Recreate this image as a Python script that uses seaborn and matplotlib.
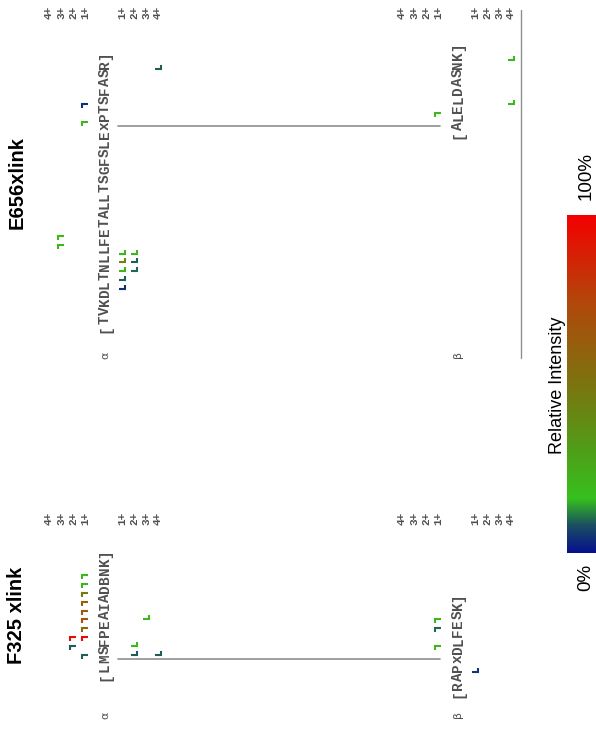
import numpy as np
import pandas as pd
import seaborn as sns
import matplotlib
matplotlib.use("Agg")
import matplotlib.pyplot as plt
from matplotlib.collections import LineCollection
from matplotlib.colors import LinearSegmentedColormap

# =================== Data ===================

# Relative intensity colour scale, 0% -> 100%
INTENSITY_STOPS = [0.0, 0.08, 0.16, 0.30, 0.50, 0.75, 1.0]
INTENSITY_COLORS = ['#08108f', '#1a4e62', '#36c11e', '#4f9f18', '#7c7410', '#b4460a', '#f40000']

# ---- F325 crosslink ----
F325_TITLE = 'F325 xlink'
F325_ALPHA = 'LMSFPEAIADBNK'
F325_BETA = 'RAPxDLFESK'
F325_LINK = (2, 4)  # linked residue (1-based) in alpha, beta

F325_ALPHA_B_ION = [11, 10, 9, 8, 7, 6, 5, 4, 2, 4, 3]
F325_ALPHA_B_Z = [1, 1, 1, 1, 1, 1, 1, 1, 1, 2, 2]
F325_ALPHA_B_INT = [0.20, 0.21, 0.48, 0.62, 0.63, 0.68, 0.55, 0.97, 0.09, 0.95, 0.09]

F325_ALPHA_Y_ION = [10, 11, 7, 11]
F325_ALPHA_Y_Z = [2, 2, 3, 4]
F325_ALPHA_Y_INT = [0.19, 0.09, 0.20, 0.09]

F325_BETA_B_ION = [8, 7, 5]
F325_BETA_B_Z = [1, 1, 1]
F325_BETA_B_INT = [0.20, 0.10, 0.21]

F325_BETA_Y_ION = [8]
F325_BETA_Y_Z = [1]
F325_BETA_Y_INT = [0.05]

# ---- E656 crosslink ----
E656_TITLE = 'E656xlink'
E656_ALPHA = 'TVKDLTNLLFETALLTSGFSLExPTSFASR'
E656_BETA = 'ALELDASNK'
E656_LINK = (23, 1)

E656_ALPHA_B_ION = [23, 25, 10, 9]
E656_ALPHA_B_Z = [1, 1, 3, 3]
E656_ALPHA_B_INT = [0.20, 0.04, 0.20, 0.21]

E656_ALPHA_Y_ION = [22, 23, 24, 25, 26, 22, 23, 24, 1]
E656_ALPHA_Y_Z = [1, 1, 1, 1, 1, 2, 2, 2, 4]
E656_ALPHA_Y_INT = [0.20, 0.42, 0.22, 0.09, 0.04, 0.20, 0.09, 0.10, 0.09]

E656_BETA_B_ION = [2]
E656_BETA_B_Z = [1]
E656_BETA_B_INT = [0.19]

E656_BETA_Y_ION = [1, 6]
E656_BETA_Y_Z = [4, 4]
E656_BETA_Y_INT = [0.20, 0.20]

CHARGES = [1, 2, 3, 4]

# =================== Layout (pixels of the 596 x 734 canvas) ===================

W, H = 596, 734
PITCH = 8.8          # spacing of residues along the peptide
ALPHA_X, BETA_X = 105, 458
ROW_GAP_B, ROW_GAP_Y, ROW_STEP = 20, 17, 12
HALF, TICK = 3.2, 4.0
PANELS = {
    'F325': dict(title_y=615, xl_y=659, charge_y=518, greek_y=715),
    'E656': dict(title_y=183, xl_y=126, charge_y=12, greek_y=355),
}
SEQ_FONT = 'Liberation Mono'
SANS = 'Liberation Sans'
TXT = '#505050'


def fragments(ions, charges, intens, series):
    return pd.DataFrame({'ion': ions, 'charge': charges, 'intensity': intens, 'series': series})


def build_panel_data():
    return {
        'F325': dict(
            title=F325_TITLE, link=F325_LINK,
            peptides=[
                ('α', F325_ALPHA, pd.concat([
                    fragments(F325_ALPHA_B_ION, F325_ALPHA_B_Z, F325_ALPHA_B_INT, 'b'),
                    fragments(F325_ALPHA_Y_ION, F325_ALPHA_Y_Z, F325_ALPHA_Y_INT, 'y')])),
                ('β', F325_BETA, pd.concat([
                    fragments(F325_BETA_B_ION, F325_BETA_B_Z, F325_BETA_B_INT, 'b'),
                    fragments(F325_BETA_Y_ION, F325_BETA_Y_Z, F325_BETA_Y_INT, 'y')])),
            ]),
        'E656': dict(
            title=E656_TITLE, link=E656_LINK,
            peptides=[
                ('α', E656_ALPHA, pd.concat([
                    fragments(E656_ALPHA_B_ION, E656_ALPHA_B_Z, E656_ALPHA_B_INT, 'b'),
                    fragments(E656_ALPHA_Y_ION, E656_ALPHA_Y_Z, E656_ALPHA_Y_INT, 'y')])),
                ('β', E656_BETA, pd.concat([
                    fragments(E656_BETA_B_ION, E656_BETA_B_Z, E656_BETA_B_INT, 'b'),
                    fragments(E656_BETA_Y_ION, E656_BETA_Y_Z, E656_BETA_Y_INT, 'y')])),
            ]),
    }


def vtext(ax, x, y, s, **kw):
    ax.text(x, y, s, rotation=90, rotation_mode='anchor', ha='center', va='center', **kw)


def draw_peptide(ax, cmap, greek, seq, frags, pep_x, link, lay):
    xl_y = lay['xl_y']
    n = len(seq)
    for i, ch in enumerate('[' + seq + ']'):
        y = xl_y - (i - link) * PITCH
        vtext(ax, pep_x, y, ch, family=SEQ_FONT, weight='bold', fontsize=10.3, color=TXT)
    vtext(ax, pep_x, lay['greek_y'], greek, family='DejaVu Sans', fontsize=8, color=TXT)

    # charge state rows
    for z in CHARGES:
        for x in (pep_x - ROW_GAP_B - ROW_STEP * (z - 1), pep_x + ROW_GAP_Y + ROW_STEP * (z - 1)):
            vtext(ax, x, lay['charge_y'], f'{z}+', family=SEQ_FONT, weight='bold',
                  fontsize=8, color=TXT)

    segs, cols = [], []
    for _, r in frags.iterrows():
        if r.series == 'b':
            site = r.ion
            x = pep_x - ROW_GAP_B - ROW_STEP * (r.charge - 1)
            y = xl_y - (site + 0.5 - link) * PITCH
            segs.append([(x + HALF, y), (x - HALF, y), (x - HALF, y + TICK)])
        else:
            site = n - r.ion
            x = pep_x + ROW_GAP_Y + ROW_STEP * (r.charge - 1)
            y = xl_y - (site + 0.5 - link) * PITCH
            segs.append([(x - HALF, y), (x + HALF, y), (x + HALF, y - TICK)])
        cols.append(cmap(r.intensity))
    ax.add_collection(LineCollection(segs, colors=cols, linewidths=1.5,
                                     capstyle='butt', joinstyle='miter'))


def main():
    sns.set_theme(style='white')
    plt.rcParams['font.family'] = [SANS, 'DejaVu Sans']
    cmap = LinearSegmentedColormap.from_list(
        'intensity', list(zip(INTENSITY_STOPS, INTENSITY_COLORS)))

    fig = plt.figure(figsize=(W / 100, H / 100), dpi=100)
    ax = fig.add_axes([0, 0, 1, 1])
    ax.set_xlim(0, W)
    ax.set_ylim(H, 0)
    ax.axis('off')

    data = build_panel_data()
    for key, panel in data.items():
        lay = PANELS[key]
        vtext(ax, 17, lay['title_y'], panel['title'], family=SANS, weight='bold',
              fontsize=14.5, color='black')
        ax.plot([ALPHA_X + 13, BETA_X - 18], [lay['xl_y'], lay['xl_y']], color='#8f8f8f', lw=1.2)
        for (greek, seq, frags), pep_x, link in zip(panel['peptides'], (ALPHA_X, BETA_X), panel['link']):
            draw_peptide(ax, cmap, greek, seq, frags, pep_x, link, lay)

    # right-hand panel frame line
    ax.plot([521, 521], [10, 358], color='#8f8f8f', lw=1.0)

    # colour bar
    cax = fig.add_axes([567 / W, 1 - 553 / H, 40 / W, 338 / H])
    cax.imshow(np.linspace(0, 1, 256)[:, None], aspect='auto', cmap=cmap, origin='lower')
    cax.axis('off')
    vtext(ax, 557, 385, 'Relative Intensity', family=SANS, fontsize=13, color='black')
    vtext(ax, 586, 577, '0%', family=SANS, fontsize=13.5, color='black')
    vtext(ax, 586, 176, '100%', family=SANS, fontsize=13.5, color='black')

    fig.savefig('out.png', dpi=100)


if __name__ == '__main__':
    main()
